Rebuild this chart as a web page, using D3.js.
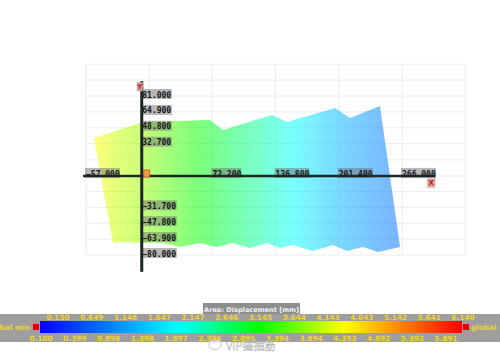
<!DOCTYPE html>
<html>
<head>
<meta charset="utf-8">
<script src="https://cdnjs.cloudflare.com/ajax/libs/d3/7.8.5/d3.min.js"></script>
<style>
body { margin: 0; background: #fff; }
svg { display: block; }
</style>
</head>
<body>
<svg id="chart" width="500" height="355"></svg>
<script>
// tick labels
const xTicks = [-57, 72.2, 136.8, 201.4, 266]
const yTicks = [81, 64.9, 48.8, 32.7, -31.7, -47.8, -63.9, -80]
const xGrid = [-57, 7.6, 72.2, 136.8, 201.4, 266, 330.6]
const yGrid = [-80, -63.9, -47.8, -31.7, -15.8, 0, 16.3, 32.7, 48.8, 64.9, 81, 97.1, 113.2]

// outline of the plate (model units), top edge left->right, bottom edge right->left
const surfaceTop = [[-48.8, 38.5], [1.3, 54.7], [69.7, 56.7], [83.0, 46.6], [133.1, 61.8],
    [148.5, 54.7], [197.5, 68.9], [212.8, 58.7], [243.5, 70.9]]
const surfaceBottom = [[264.0, -71.9], [241.5, -77.0], [226.1, -71.9], [209.8, -75.9], [195.5, -69.9],
    [175.0, -75.9], [154.6, -69.9], [141.3, -72.9], [128.0, -67.8], [110.6, -72.9], [93.3, -67.8],
    [76.9, -71.9], [59.5, -67.8], [39.1, -71.9], [21.7, -67.8], [1.3, -67.8], [-19.2, -66.8], [-29.4, -67.8]]

// displacement [mm] along x
const dispX = [-50, 0, 50, 100, 150, 200, 265]
const dispV = [4.45, 3.95, 3.35, 2.75, 2.15, 1.55, 0.95]

// legend
const legendTop = ['0.150', '0.649', '1.148', '1.647', '2.147', '2.646', '3.145', '3.644', '4.143', '4.643', '5.142', '5.641', '6.140']
const legendBottom = ['0.100', '0.399', '0.898', '1.398', '1.897', '2.396', '2.895', '3.394', '3.894', '4.393', '4.892', '5.392', '5.891']
const cmapValues = [0.1, 2.09, 3.24, 4.45, 5.29, 6.14]
const cmapColors = ['#0000ff', '#00ffff', '#00ff00', '#ffff00', '#ff8000', '#ff0000']

const svg = d3.select('#chart')
const mono = 'DejaVu Sans Mono, monospace'
const sans = 'DejaVu Sans, sans-serif'

const x = d3.scaleLinear().domain([-57, 266]).range([86, 402])
const y = d3.scaleLinear().domain([-80, 81]).range([255, 96])
const cmap = d3.scaleLinear().domain(cmapValues).range(cmapColors).clamp(true)
const disp = d3.scaleLinear().domain(dispX).range(dispV).clamp(true)

const defs = svg.append('defs')

//grid
const grid = svg.append('g').attr('stroke', '#ececec').attr('stroke-width', 1)
grid.selectAll('.gx').data(xGrid).enter().append('line')
    .attr('x1', d => x(d)).attr('x2', d => x(d))
    .attr('y1', y(d3.max(yGrid))).attr('y2', y(d3.min(yGrid)))
grid.selectAll('.gy').data(yGrid).enter().append('line')
    .attr('y1', d => y(d)).attr('y2', d => y(d))
    .attr('x1', x(d3.min(xGrid))).attr('x2', x(d3.max(xGrid)))

//surface gradient, sampled from the displacement profile
const surfGrad = defs.append('linearGradient')
    .attr('id', 'surfGrad')
    .attr('gradientUnits', 'userSpaceOnUse')
    .attr('x1', x(-57)).attr('x2', x(266)).attr('y1', 0).attr('y2', 0)
surfGrad.selectAll('stop').data(d3.range(0, 1.0001, 0.025)).enter().append('stop')
    .attr('offset', d => d)
    .attr('stop-color', d => cmap(disp(-57 + d * 323)))

const line = d3.line().x(d => x(d[0])).y(d => y(d[1]))
svg.append('path')
    .attr('d', line(surfaceTop.concat(surfaceBottom)) + 'Z')
    .attr('fill', 'url(#surfGrad)')
    .attr('fill-opacity', 0.52)

//tick labels (boxes sit under the axis lines)
const labels = svg.append('g')
const fmt = d3.format('.3f')
const xl = labels.selectAll('.xl').data(xTicks).enter().append('g')
xl.append('rect')
    .attr('x', d => x(d) - 1).attr('y', y(0) - 8)
    .attr('width', d => fmt(d).length * 4.85 + 1).attr('height', 10)
    .attr('fill', '#707070').attr('fill-opacity', 0.5)
xl.append('text')
    .attr('x', d => x(d)).attr('y', y(0) + 0.8)
    .attr('font-family', mono).attr('font-weight', 'bold').attr('font-size', '8px')
    .attr('fill', '#151515')
    .text(d => fmt(d))

const yl = labels.selectAll('.yl').data(yTicks).enter().append('g')
yl.append('rect')
    .attr('x', x(0)).attr('y', d => y(d) - 7)
    .attr('width', d => fmt(d).length * 4.85 + 1).attr('height', 10)
    .attr('fill', '#707070').attr('fill-opacity', 0.5)
yl.append('text')
    .attr('x', x(0) + 0.5).attr('y', d => y(d) + 1.5)
    .attr('font-family', mono).attr('font-weight', 'bold').attr('font-size', '8px')
    .attr('fill', '#151515')
    .text(d => fmt(d))

//axes
svg.append('line')
    .attr('x1', x(-60)).attr('x2', x(300)).attr('y1', y(0)).attr('y2', y(0))
    .attr('stroke', '#1b2626').attr('stroke-width', 2.5)
svg.append('line')
    .attr('x1', x(0)).attr('x2', x(0)).attr('y1', y(96)).attr('y2', y(-97))
    .attr('stroke', '#1b2626').attr('stroke-width', 3)

//axis markers
const marker = (cx, cy, w, h, fill, label) => {
    svg.append('rect').attr('x', cx).attr('y', cy).attr('width', w).attr('height', h)
        .attr('fill', fill)
    svg.append('text').attr('x', cx + w / 2).attr('y', cy + h - 2)
        .attr('text-anchor', 'middle')
        .attr('font-family', sans).attr('font-size', '7px').attr('font-weight', 'bold')
        .attr('fill', '#d01818').text(label)
}
marker(x(300) - 8, y(0) + 2.5, 8, 9, '#d9a0a0', 'X')
marker(x(0) - 5, y(96) + 1, 6, 9, '#c8a0a0', 'Y')
svg.append('rect').attr('x', x(0) + 2).attr('y', y(0) - 6).attr('width', 6).attr('height', 7)
    .attr('fill', '#e8a040').attr('stroke', '#d05020').attr('stroke-width', 0.8)

//legend
const legendVal = d3.scaleLinear().domain([0.1, 6.14]).range([40, 462])
const legendIdx = d3.scaleLinear().domain([0, 12]).range([58, 463])

svg.append('rect').attr('x', 0).attr('y', 314).attr('width', 500).attr('height', 28)
    .attr('fill', '#9e9e9e')
svg.append('rect').attr('x', 203).attr('y', 303).attr('width', 97).attr('height', 11)
    .attr('fill', '#8e8e8e')
svg.append('text').attr('x', 251.5).attr('y', 311.5)
    .attr('text-anchor', 'middle')
    .attr('font-family', sans).attr('font-size', '6.6px').attr('font-weight', 'bold')
    .attr('fill', '#f2f2f2')
    .text('Area: Displacement [mm]')

const legGrad = defs.append('linearGradient').attr('id', 'legGrad')
legGrad.selectAll('stop').data(d3.range(0, 1.0001, 0.02)).enter().append('stop')
    .attr('offset', d => d)
    .attr('stop-color', d => cmap(legendVal.invert(40 + d * 422)))
svg.append('rect')
    .attr('x', legendVal(0.1)).attr('y', 321)
    .attr('width', legendVal(6.14) - legendVal(0.1)).attr('height', 12)
    .attr('fill', 'url(#legGrad)')

const legText = (sel) => sel
    .attr('text-anchor', 'middle')
    .attr('font-family', sans).attr('font-size', '7.3px').attr('font-weight', 'bold')
    .attr('fill', '#f0d232')
svg.selectAll('.lt').data(legendTop).enter().append('text')
    .attr('x', (d, i) => legendIdx(i)).attr('y', 320)
    .call(legText).text(d => d)
svg.selectAll('.lb').data(legendBottom).enter().append('text')
    .attr('x', (d, i) => legendIdx(i - 0.5)).attr('y', 340.5)
    .call(legText).text(d => d)

svg.append('rect').attr('x', 33).attr('y', 324).attr('width', 6).attr('height', 6).attr('fill', '#e00000')
svg.append('rect').attr('x', 463).attr('y', 324).attr('width', 6).attr('height', 6).attr('fill', '#e00000')
svg.append('text').attr('x', 30).attr('y', 330).call(legText).attr('text-anchor', 'end').text('global min')
svg.append('text').attr('x', 471).attr('y', 330).call(legText).attr('text-anchor', 'start').text('global max')

//watermark
const wm = svg.append('g').attr('opacity', 0.9)
wm.append('ellipse').attr('cx', 215).attr('cy', 345).attr('rx', 6).attr('ry', 4.5)
    .attr('fill', 'none').attr('stroke', '#fff').attr('stroke-width', 2)
wm.append('ellipse').attr('cx', 215).attr('cy', 345).attr('rx', 6).attr('ry', 4.5)
    .attr('fill', 'none').attr('stroke', '#999').attr('stroke-width', 0.6)
wm.append('text').attr('x', 226).attr('y', 350)
    .attr('font-family', 'Noto Sans CJK SC, sans-serif').attr('font-size', '11px')
    .attr('fill', '#ffffff').attr('stroke', '#9a9a9a').attr('stroke-width', 0.4)
    .text('VIP猫抽筋')
</script>
</body>
</html>
